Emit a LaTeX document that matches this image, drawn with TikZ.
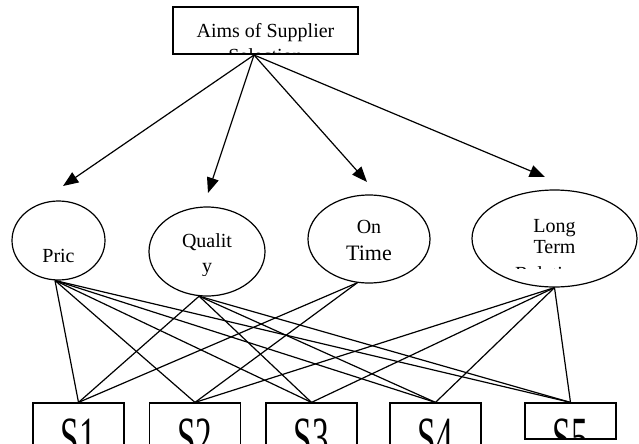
\documentclass[tikz,border=0pt]{standalone}
\usepackage{fontspec}
\setmainfont{Liberation Serif}
\usepackage{graphicx}
\usepackage{tikz}
\usetikzlibrary{arrows.meta, positioning, shapes.geometric}

\begin{document}
\begin{tikzpicture}[
    x=0.75pt, y=-0.75pt,
    aimbox/.style={rectangle, draw, line width=0.9pt, minimum width=138.75pt, minimum height=35.25pt, inner sep=0pt},
    goal/.style={ellipse, draw, line width=0.9pt, inner sep=0pt},
    supbox/.style={rectangle, draw, line width=0.9pt, minimum width=68.25pt, minimum height=50.25pt, inner sep=0pt},
    txt/.style={inner sep=0pt, anchor=base, font=\fontsize{15}{18}\selectfont},
    stxt/.style={inner sep=0pt, anchor=base, font=\fontsize{25}{28}\selectfont},
    arrow/.style={-{Triangle[length=11.5pt, width=9pt]}, line width=0.9pt},
    link/.style={line width=0.9pt}
]
\useasboundingbox (0,0) rectangle (639,443);
\clip (0,0) rectangle (639,443);

% aim
\node[aimbox] (aims) at (265.5,30.5) {};
\node[txt] (aimstxt) at (265.5,37) {Aims of Supplier};
\begin{scope}
\clip (aims.south west) rectangle (aims.north east);
\node[txt] (seltxt) at (265.5,62) {Selection};
\end{scope}

% criteria
\node[goal, minimum width=69.75pt, minimum height=59.25pt] (pric) at (58.5,240.5) {};
\node[goal, minimum width=87pt, minimum height=66.75pt] (quality) at (207,251.5) {};
\node[goal, minimum width=91.5pt, minimum height=66pt] (ontime) at (369,239) {};
\node[goal, minimum width=123.75pt, minimum height=72.75pt] (longterm) at (554.5,238.5) {};

\node[txt] (prictxt) at (58.5,262) {Pric};
\node[txt] (qualtxt) at (207,247) {Qualit};
\begin{scope}
\clip (150,258) rectangle (265,275);
\node[txt] (qualtxt2) at (207,272) {y};
\end{scope}
\node[txt] (ontxt) at (369,233) {On};
\node[txt, font=\fontsize{16.5}{19}\selectfont] (timetxt) at (369,260) {Time};
\node[txt] (longtxt) at (554.5,232) {Long};
\node[txt] (termtxt) at (554.5,253) {Term};
\begin{scope}
\clip (480,258) rectangle (630,268);
\node[txt] (reltxt) at (553,280) {Relations};
\end{scope}

% suppliers
\node[supbox] (s1) at (78.5,436.5) {};
\node[supbox] (s2) at (195,436.5) {};
\node[supbox] (s3) at (311.5,436.5) {};
\node[supbox] (s4) at (435.5,436.5) {};
\node[supbox, minimum height=27pt] (s5) at (570.5,421) {};

\foreach \n/\x in {1/78.5, 2/195, 3/311.5, 4/435.5}
  \node[stxt] (st\n) at (\x,457) {\scalebox{1}[1.75]{S\n}};
\begin{scope}
\clip (s5.south west) rectangle (s5.north east);
\node[stxt] (st5) at (570.5,457) {\scalebox{1}[1.75]{S5}};
\end{scope}

% arrows
\coordinate (src) at (254,55);
\coordinate (apric) at (63,186);
\coordinate (aqual) at (208,193);
\coordinate (aon) at (367,182);
\coordinate (along) at (545,177);
\foreach \t in {apric, aqual, aon, along}{\draw[arrow] (src) -- (\t);}

% links
\foreach \i/\j in {pric.-95/s1, pric.-95/s2, pric.-95/s3, pric.-95/s4, pric.-95/s5,
                   quality.-100/s1, quality.-100/s3, quality.-100/s4, quality.-100/s5,
                   ontime.-105/s1, ontime.-105/s2,
                   longterm.south/s2, longterm.south/s3, longterm.south/s4, longterm.south/s5}
  {\draw[link] (\i) -- (\j.north);}

\end{tikzpicture}
\end{document}
